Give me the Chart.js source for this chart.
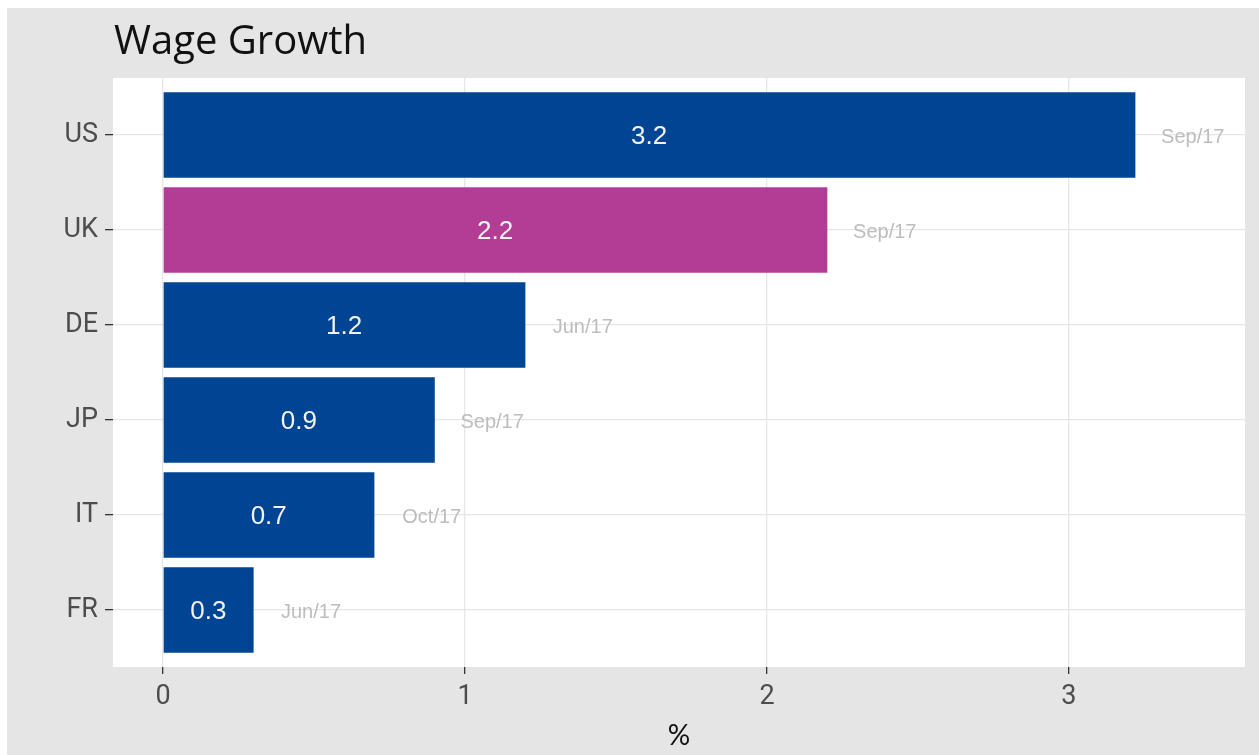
<!DOCTYPE html>
<html>
<head>
<meta charset="utf-8">
<script src="https://cdn.jsdelivr.net/npm/chart.js@4"></script>
<style>
  html, body { margin: 0; padding: 0; background: #ffffff; }
  #wrap { width: 1259px; height: 755px; position: relative; }
</style>
</head>
<body>
<div id="wrap"><canvas id="chart" width="1259" height="755"></canvas></div>
<script>
// Data
const countries = ["US", "UK", "DE", "JP", "IT", "FR"];
const wageGrowth = [3.22, 2.2, 1.2, 0.9, 0.7, 0.3];
const periods = ["Sep/17", "Sep/17", "Jun/17", "Sep/17", "Oct/17", "Jun/17"];
const highlight = "UK";
const xTicks = [0, 1, 2, 3];

const BLUE = "#004593";
const PINK = "#b33d94";

// Gray page background, white panel, title
const backdrop = {
  id: "backdrop",
  beforeDraw(chart) {
    const { ctx, chartArea } = chart;
    ctx.save();
    ctx.fillStyle = "#e5e5e5";
    ctx.fillRect(7, 8, chart.width - 7, chart.height - 8);
    ctx.fillStyle = "#ffffff";
    ctx.fillRect(chartArea.left, chartArea.top, chartArea.right - chartArea.left, chartArea.bottom - chartArea.top);
    ctx.fillStyle = "#111111";
    ctx.font = "40px 'Open Sans'";
    ctx.textAlign = "left";
    ctx.textBaseline = "alphabetic";
    ctx.fillText("Wage Growth", chartArea.left + 1, 54);
    ctx.restore();
  }
};

// Value inside each bar, period to the right of it
const barLabels = {
  id: "barLabels",
  afterDatasetsDraw(chart) {
    const { ctx } = chart;
    const xs = chart.scales.x;
    const meta = chart.getDatasetMeta(0);
    ctx.save();
    ctx.textAlign = "center";
    ctx.textBaseline = "middle";
    meta.data.forEach((bar, i) => {
      const v = wageGrowth[i];
      ctx.fillStyle = "#f2f2f2";
      ctx.font = "26px 'Liberation Sans'";
      ctx.fillText(v.toFixed(1), xs.getPixelForValue(v / 2), bar.y + 2);
      ctx.fillStyle = "#bdbdbd";
      ctx.font = "20px 'Liberation Sans'";
      ctx.fillText(periods[i], xs.getPixelForValue(v + 0.19), bar.y + 2);
    });
    ctx.restore();
  }
};

new Chart(document.getElementById("chart"), {
  type: "bar",
  data: {
    labels: countries,
    datasets: [{
      data: wageGrowth,
      backgroundColor: countries.map((c) => (c === highlight ? PINK : BLUE)),
      borderWidth: 0,
      barPercentage: 0.9,
      categoryPercentage: 1
    }]
  },
  options: {
    indexAxis: "y",
    responsive: false,
    animation: false,
    layout: { padding: { top: 78, right: 14, left: 0, bottom: 0 } },
    plugins: {
      legend: { display: false },
      tooltip: { enabled: false }
    },
    scales: {
      x: {
        type: "linear",
        min: -0.1656,
        max: 3.583,
        afterBuildTicks: (scale) => {
          scale.ticks = xTicks.map((v) => ({ value: v }));
        },
        afterFit: (scale) => { scale.height = 88; },
        grid: { color: "#e6e6e6", lineWidth: 1.3, tickColor: "#333333", tickLength: 7 },
        border: { display: false },
        ticks: { color: "#4d4d4d", font: { family: "Roboto", size: 27 }, padding: 7 },
        title: {
          display: true,
          text: "%",
          color: "#111111",
          font: { family: "Lato", size: 28 },
          padding: { top: 0, bottom: 2 }
        }
      },
      y: {
        type: "category",
        offset: false,
        afterBuildTicks: (scale) => {
          // ggplot-style discrete expansion of 0.6 on each side
          scale._startValue = -0.6;
          scale._valueRange = countries.length - 1 + 1.2;
        },
        afterFit: (scale) => { scale.width = 113; },
        grid: { color: "#e6e6e6", lineWidth: 1.3, tickColor: "#333333", tickLength: 8, offset: false },
        border: { display: false },
        ticks: { color: "#4d4d4d", font: { family: "Roboto", size: 27 }, padding: 7 }
      }
    }
  },
  plugins: [backdrop, barLabels]
});
</script>
</body>
</html>
